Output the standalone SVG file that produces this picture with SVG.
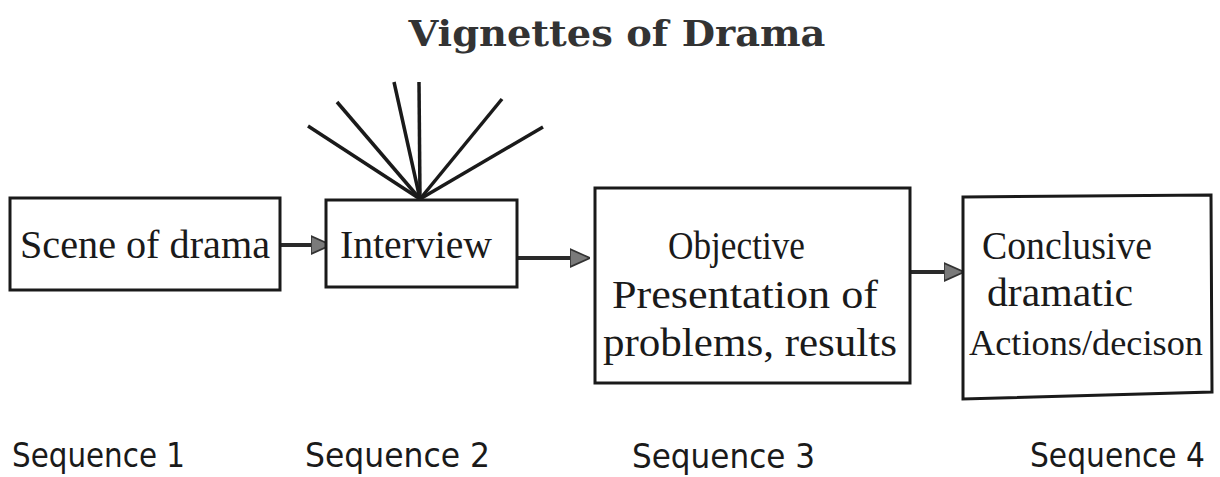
<svg xmlns="http://www.w3.org/2000/svg" width="1220" height="477" viewBox="0 0 1220 477">
<style>
.box{fill:#fff;stroke:#1a1a1a;stroke-width:3}
.t{font-family:"Liberation Serif","DejaVu Serif",serif;font-size:40px;fill:#1a1a1a}
.seq{font-family:"DejaVu Sans Condensed","DejaVu Sans","Liberation Sans",sans-serif;font-size:33px;fill:#1a1a1a}
.ttl{font-family:"DejaVu Serif","Liberation Serif",serif;font-weight:bold;font-size:35px;fill:#333}
.c{stroke:#2a2a2a;stroke-width:4;fill:none}
.ray{stroke:#1a1a1a;stroke-width:3.5;fill:none}
</style>
<defs>
<marker id="ah" viewBox="0 0 10 10" refX="9" refY="5" markerWidth="5" markerHeight="5" orient="auto" markerUnits="strokeWidth">
<path d="M0,0.5 L10,5 L0,9.5 Z" fill="#7a7a7a" stroke="#333" stroke-width="0.8"/>
</marker>
</defs>
<rect width="1220" height="477" fill="#fff"/>
<text class="ttl" x="617" y="46" text-anchor="middle" textLength="417" lengthAdjust="spacingAndGlyphs">Vignettes of Drama</text>
<g id="rays">
<line class="ray" x1="420" y1="199" x2="308" y2="126"/>
<line class="ray" x1="420" y1="199" x2="337" y2="102"/>
<line class="ray" x1="420" y1="199" x2="394" y2="82"/>
<line class="ray" x1="420" y1="199" x2="419" y2="82"/>
<line class="ray" x1="420" y1="199" x2="502" y2="99"/>
<line class="ray" x1="420" y1="199" x2="543" y2="127"/>
</g>
<g id="connectors">
<line class="c" x1="272" y1="245" x2="329" y2="245" marker-end="url(#ah)"/>
<line class="c" x1="518" y1="258" x2="588" y2="258" marker-end="url(#ah)"/>
<line class="c" x1="907" y1="272" x2="962" y2="272" marker-end="url(#ah)"/>
</g>
<g id="n1">
<rect class="box" x="10" y="198" width="270" height="92"/>
<text class="t" x="20" y="258" textLength="250" lengthAdjust="spacingAndGlyphs">Scene of drama</text>
</g>
<g id="n2">
<rect class="box" x="326" y="200" width="191" height="87"/>
<text class="t" x="340" y="258" textLength="152" lengthAdjust="spacingAndGlyphs">Interview</text>
</g>
<g id="n3">
<rect class="box" x="595" y="188" width="315" height="195"/>
<text class="t" x="668" y="259" textLength="137" lengthAdjust="spacingAndGlyphs">Objective</text>
<text class="t" x="612" y="308" textLength="266" lengthAdjust="spacingAndGlyphs">Presentation of</text>
<text class="t" x="603" y="356" textLength="294" lengthAdjust="spacingAndGlyphs">problems, results</text>
</g>
<g id="n4">
<path class="box" d="M963,197 L1211,195 L1212,392 L963,399 Z"/>
<text class="t" x="982" y="259" textLength="170" lengthAdjust="spacingAndGlyphs">Conclusive</text>
<text class="t" x="987" y="306" textLength="146" lengthAdjust="spacingAndGlyphs">dramatic</text>
<text class="t" x="969" y="355" style="font-size:35px" textLength="234" lengthAdjust="spacingAndGlyphs">Actions/decison</text>
</g>
<g id="labels">
<text class="seq" x="12" y="467" textLength="173" lengthAdjust="spacingAndGlyphs">Sequence 1</text>
<text class="seq" x="305" y="467" textLength="185" lengthAdjust="spacingAndGlyphs">Sequence 2</text>
<text class="seq" x="632" y="468" textLength="183" lengthAdjust="spacingAndGlyphs">Sequence 3</text>
<text class="seq" x="1030" y="467" textLength="175" lengthAdjust="spacingAndGlyphs">Sequence 4</text>
</g>
</svg>
